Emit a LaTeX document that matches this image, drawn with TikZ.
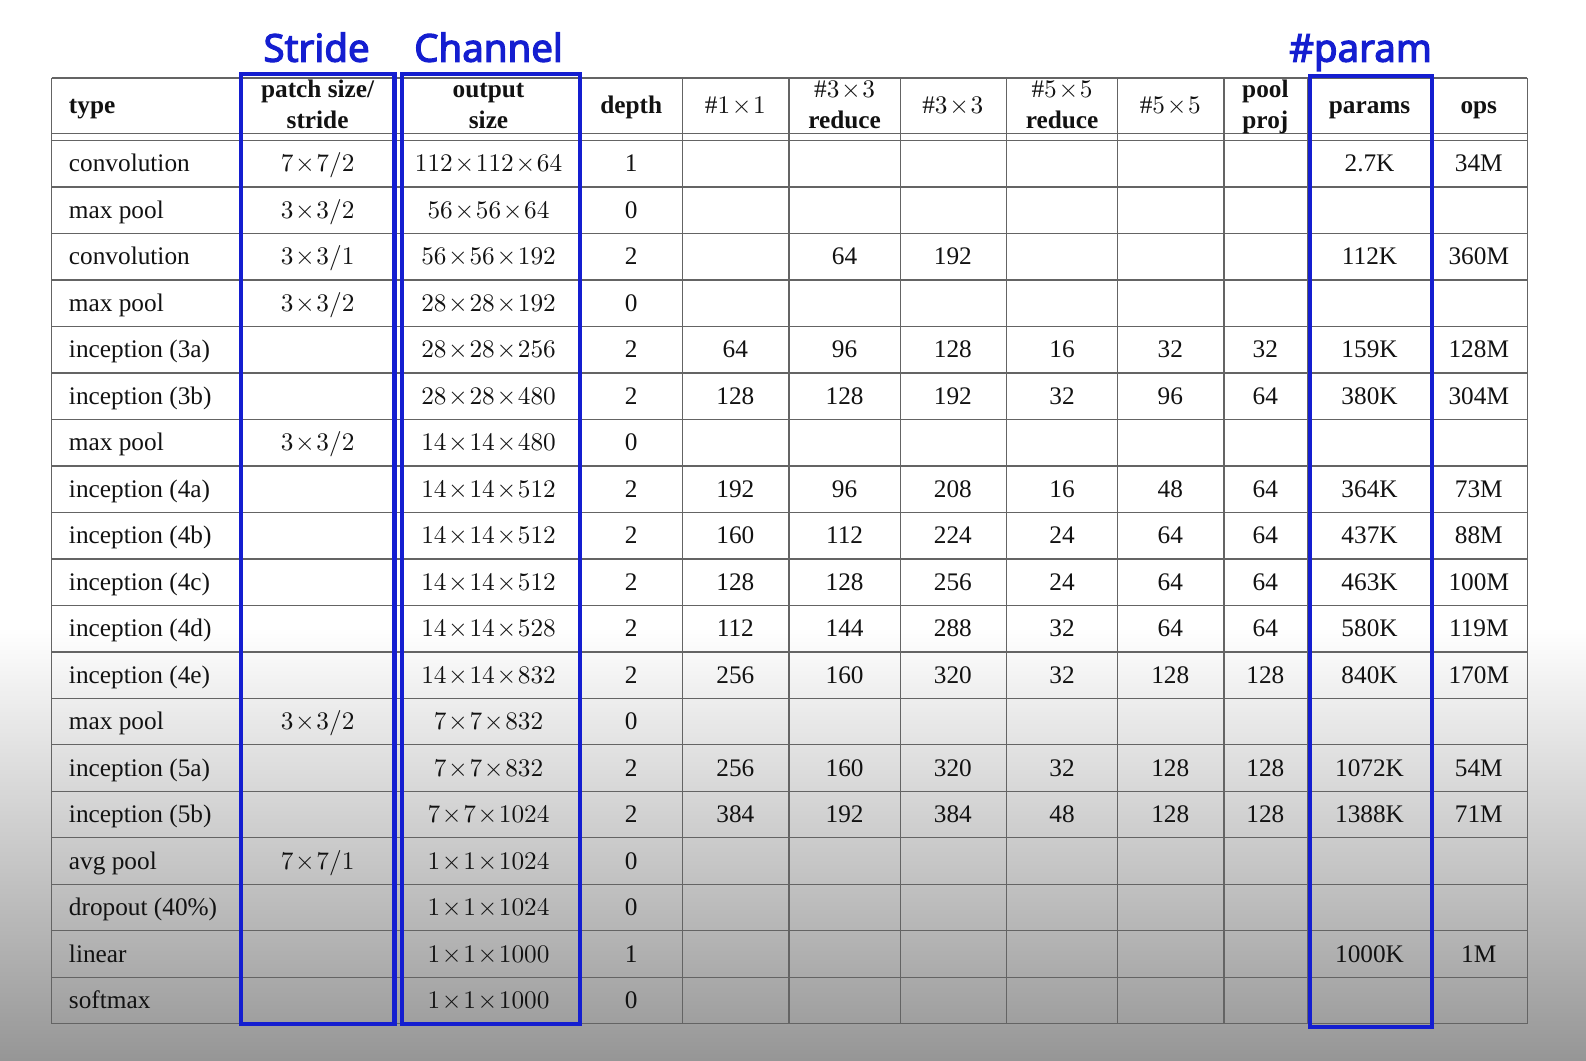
\RequirePackage{fix-cm}
\documentclass[tikz,border=0pt]{standalone}
\usepackage{fontspec}
\setmainfont{Liberation Serif}
\newfontfamily\labfont{Noto Sans}[FakeBold=3]
\DeclareFontShape{OT1}{cmr}{m}{n}{<->cmr10}{}
\DeclareFontShape{OML}{cmm}{m}{it}{<->cmmi10}{}
\definecolor{hl}{RGB}{20,30,208}
\definecolor{gridc}{RGB}{100,100,100}
\definecolor{bgbot}{RGB}{150,150,150}
\definecolor{ink}{RGB}{18,18,18}
\newcommand\tx{\mskip1.2mu{\times}\mskip1.2mu}
\newcommand\cellat[4]{\if\relax\detokenize{#4}\relax\else\node[cell] (#1) at (#2,{170+45.95*(#3)}) {#4};\fi}
\newcommand\rowA[5]{\node[cell,anchor=base west] (t#1) at (68,{170+45.95*(#1)}) {#2};%
  \cellat{s#1}{314}{#1}{#3}\cellat{o#1}{483}{#1}{#4}\cellat{d#1}{624}{#1}{#5}}
\newcommand\rowB[9]{\cellat{a#1}{727}{#1}{#2}\cellat{b#1}{835}{#1}{#3}\cellat{c#1}{942}{#1}{#4}%
  \cellat{e#1}{1050}{#1}{#5}\cellat{f#1}{1157}{#1}{#6}\cellat{g#1}{1251}{#1}{#7}%
  \cellat{p#1}{1354}{#1}{#8}\cellat{q#1}{1462}{#1}{#9}}
\begin{document}
\begin{tikzpicture}[x=1pt,y=-1pt,
  cell/.style={inner sep=0pt, anchor=base, text=ink, font=\fontsize{25}{30}\selectfont},
  head/.style={cell, font=\fontsize{25}{30}\selectfont\bfseries},
  gridline/.style={draw=gridc, line width=1.3pt},
  hlbox/.style={draw=hl, line width=4pt},
  lab/.style={inner sep=0pt, anchor=base, text=hl, font=\labfont\fontsize{38}{42}\selectfont}]
\useasboundingbox (0,0) rectangle (1568,1048);
\fill[white] (0,0) rectangle (1568,1048);
\shade[top color=white, bottom color=bgbot] (0,620) rectangle (1568,1048);
% grid
\draw[gridline] (51,77) -- (1510,77);
\draw[gridline] (51,132) -- (1510,132);
\draw[gridline] (51,139) -- (1510,139);
\foreach \i in {1,...,19} {\draw[gridline] (51,{139+45.95*\i}) -- (1510,{139+45.95*\i});}
\foreach \x in {51,238,392,573,675,780,890,995,1105,1210,1293,1415,1510} {\draw[gridline] (\x,77) -- (\x,1012.05);}
% header
\node[head,anchor=base west] (htype) at (68,112) {type};
\node[head] (hs1) at (314,96) {patch size/};
\node[head] (hs2) at (314,127) {stride};
\node[head] (ho1) at (483,96) {output};
\node[head] (ho2) at (483,127) {size};
\node[head] (hd) at (624,112) {depth};
\node[cell] (h1) at (727,112) {$\#1\tx1$};
\node[cell] (h3r1) at (835,96) {$\#3\tx3$};
\node[head] (h3r2) at (835,127) {reduce};
\node[cell] (h3) at (942,112) {$\#3\tx3$};
\node[cell] (h5r1) at (1050,96) {$\#5\tx5$};
\node[head] (h5r2) at (1050,127) {reduce};
\node[cell] (h5) at (1157,112) {$\#5\tx5$};
\node[head] (hp1) at (1251,96) {pool};
\node[head] (hp2) at (1251,127) {proj};
\node[head] (hpar) at (1354,112) {params};
\node[head] (hops) at (1462,112) {ops};
% rows
\rowA{0}{convolution}{$7\tx7/2$}{$112\tx112\tx64$}{1}
\rowB{0}{}{}{}{}{}{}{2.7K}{34M}
\rowA{1}{max pool}{$3\tx3/2$}{$56\tx56\tx64$}{0}
\rowA{2}{convolution}{$3\tx3/1$}{$56\tx56\tx192$}{2}
\rowB{2}{}{64}{192}{}{}{}{112K}{360M}
\rowA{3}{max pool}{$3\tx3/2$}{$28\tx28\tx192$}{0}
\rowA{4}{inception (3a)}{}{$28\tx28\tx256$}{2}
\rowB{4}{64}{96}{128}{16}{32}{32}{159K}{128M}
\rowA{5}{inception (3b)}{}{$28\tx28\tx480$}{2}
\rowB{5}{128}{128}{192}{32}{96}{64}{380K}{304M}
\rowA{6}{max pool}{$3\tx3/2$}{$14\tx14\tx480$}{0}
\rowA{7}{inception (4a)}{}{$14\tx14\tx512$}{2}
\rowB{7}{192}{96}{208}{16}{48}{64}{364K}{73M}
\rowA{8}{inception (4b)}{}{$14\tx14\tx512$}{2}
\rowB{8}{160}{112}{224}{24}{64}{64}{437K}{88M}
\rowA{9}{inception (4c)}{}{$14\tx14\tx512$}{2}
\rowB{9}{128}{128}{256}{24}{64}{64}{463K}{100M}
\rowA{10}{inception (4d)}{}{$14\tx14\tx528$}{2}
\rowB{10}{112}{144}{288}{32}{64}{64}{580K}{119M}
\rowA{11}{inception (4e)}{}{$14\tx14\tx832$}{2}
\rowB{11}{256}{160}{320}{32}{128}{128}{840K}{170M}
\rowA{12}{max pool}{$3\tx3/2$}{$7\tx7\tx832$}{0}
\rowA{13}{inception (5a)}{}{$7\tx7\tx832$}{2}
\rowB{13}{256}{160}{320}{32}{128}{128}{1072K}{54M}
\rowA{14}{inception (5b)}{}{$7\tx7\tx1024$}{2}
\rowB{14}{384}{192}{384}{48}{128}{128}{1388K}{71M}
\rowA{15}{avg pool}{$7\tx7/1$}{$1\tx1\tx1024$}{0}
\rowA{16}{dropout (40\%)}{}{$1\tx1\tx1024$}{0}
\rowA{17}{linear}{}{$1\tx1\tx1000$}{1}
\rowB{17}{}{}{}{}{}{}{1000K}{1M}
\rowA{18}{softmax}{}{$1\tx1\tx1000$}{0}
% highlight boxes
\draw[hlbox] (238,73) rectangle (390,1012);
\draw[hlbox] (397,73) rectangle (573,1012);
\draw[hlbox] (1295,75) rectangle (1416,1015);
\node[lab] (lstride) at (313,61) {Stride};
\node[lab] (lchan) at (483,61) {Channel};
\node[lab] (lparam) at (1345,61) {\#param};
\end{tikzpicture}
\end{document}
